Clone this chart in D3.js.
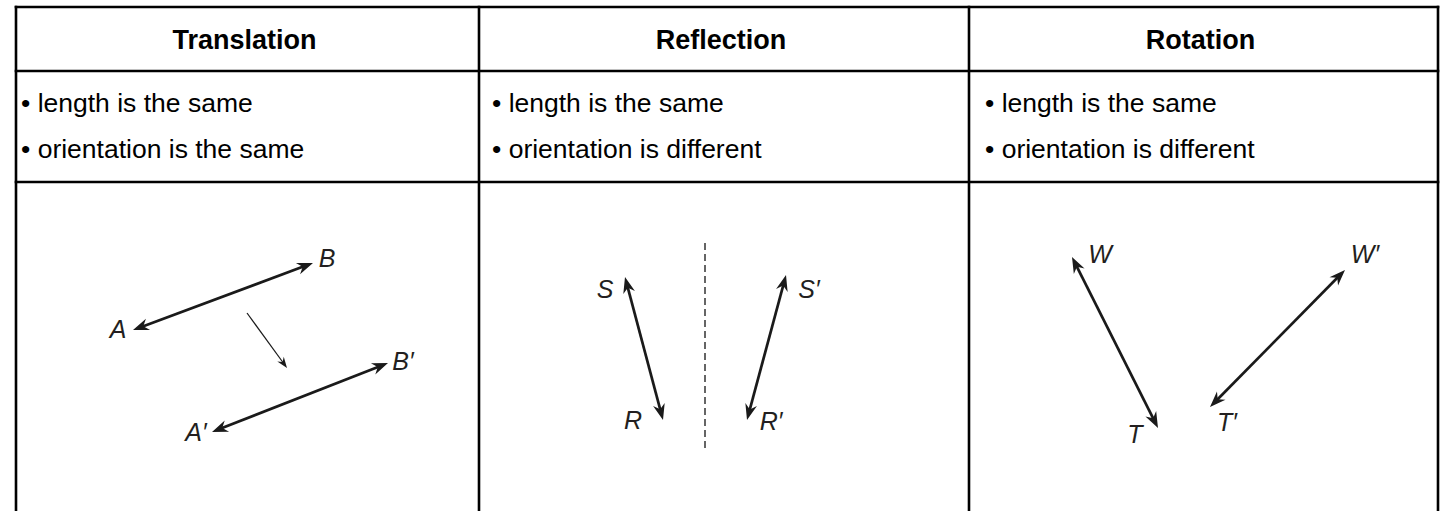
<!DOCTYPE html>
<html>
<head>
<meta charset="utf-8"/>
<style>
body { margin: 0; background: #fff; }
.head { font: bold 27px "Liberation Sans", Arial, sans-serif; text-anchor: middle; fill: #000; }
.prop { font: 26.5px "Liberation Sans", Arial, sans-serif; fill: #000; }
.lbl { font: italic 25px "Liberation Sans", Arial, sans-serif; fill: #231f20; text-anchor: middle; dominant-baseline: central; }
.grid { stroke: #000; stroke-width: 2.6; }
</style>
<script src="https://d3js.org/d3.v7.min.js"></script>
</head>
<body>
<svg width="1442" height="511"></svg>
<script>

var headers = ["Translation", "Reflection", "Rotation"];

var properties = [
  ["length is the same", "orientation is the same"],
  ["length is the same", "orientation is different"],
  ["length is the same", "orientation is different"]
];

// segment end points, in units from the top left corner of each drawing cell
var segments = [
  [{x1: 117, y1: 148, x2: 297, y2: 81, kind: "bold"},
   {x1: 196, y1: 250, x2: 372, y2: 181, kind: "bold"},
   {x1: 231, y1: 131, x2: 271, y2: 186, kind: "thin"}],
  [{x1: 146, y1: 95, x2: 184, y2: 238, kind: "bold"},
   {x1: 307, y1: 93, x2: 268, y2: 238, kind: "bold"}],
  [{x1: 103, y1: 75, x2: 189, y2: 246, kind: "bold"},
   {x1: 376, y1: 88, x2: 241, y2: 225, kind: "bold"}]
];

// line of reflection
var mirrors = [[], [{x: 226, y1: 61, y2: 270}], []];

var labels = [
  [{t: "A", x: 102, y: 147}, {t: "B", x: 311, y: 76}, {t: "A\u2032", x: 180, y: 250}, {t: "B\u2032", x: 387, y: 179}],
  [{t: "S", x: 126, y: 107}, {t: "R", x: 154, y: 238}, {t: "S\u2032", x: 330, y: 107}, {t: "R\u2032", x: 292, y: 239}],
  [{t: "W", x: 131, y: 72}, {t: "T", x: 166, y: 252}, {t: "W\u2032", x: 396, y: 72}, {t: "T\u2032", x: 258, y: 240}]
];

var colEdges = [16, 479, 969, 1438],
    rowEdges = [7, 71, 182, 560];

var svg = d3.select("svg");

var defs = svg.append("defs");
function marker(id, path, shift) {
  defs.append("marker")
      .attr("id", id)
      .attr("viewBox", "-18 -9 20 18")
      .attr("markerWidth", 20).attr("markerHeight", 18)
      .attr("markerUnits", "userSpaceOnUse")
      .attr("refX", -shift).attr("refY", 0)
      .attr("orient", "auto-start-reverse")
    .append("path")
      .attr("d", path)
      .attr("fill", "#1a1a1a");
}
marker("head", "M0,0L-16,-6L-11,0L-16,6Z", 6);
marker("thinhead", "M0,0L-11,-4L-7.5,0L-11,4Z", 4);

// table rules
svg.selectAll("line.h")
  .data(rowEdges.slice(0, 3))
  .enter().append("line")
    .attr("class", "grid")
    .attr("x1", colEdges[0] - 1.3).attr("x2", colEdges[3] + 1.3)
    .attr("y1", function(d) { return d; }).attr("y2", function(d) { return d; });

svg.selectAll("line.v")
  .data(colEdges)
  .enter().append("line")
    .attr("class", "grid")
    .attr("x1", function(d) { return d; }).attr("x2", function(d) { return d; })
    .attr("y1", rowEdges[0] - 1.3).attr("y2", rowEdges[3]);

headers.forEach(function(h, i) {
  var left = colEdges[i], right = colEdges[i + 1];
  var pad = [5, 13, 16][i];

  svg.append("text")
      .attr("class", "head")
      .attr("x", (left + right) / 2 - 3)
      .attr("y", rowEdges[0] + 42)
      .text(h);

  svg.selectAll("text.p" + i)
    .data(properties[i])
    .enter().append("text")
      .attr("class", "prop p" + i)
      .attr("x", left + pad)
      .attr("y", function(d, j) { return rowEdges[1] + 41 + j * 46; })
      .text(function(d) { return "\u2022 " + d; });

  var x = d3.scaleLinear().domain([0, right - left]).range([left, right]),
      y = d3.scaleLinear().domain([0, rowEdges[3] - rowEdges[2]]).range([rowEdges[2], rowEdges[3]]);

  var g = svg.append("g");

  g.selectAll("line.seg")
    .data(segments[i])
    .enter().append("line")
      .each(function(d) {
        var shift = d.kind === "bold" ? 6 : 4;
        var x1 = x(d.x1), y1 = y(d.y1), x2 = x(d.x2), y2 = y(d.y2);
        var len = Math.hypot(x2 - x1, y2 - y1), ux = (x2 - x1) / len, uy = (y2 - y1) / len;
        var both = d.kind === "bold";
        d3.select(this)
          .attr("x1", both ? x1 + ux * shift : x1)
          .attr("y1", both ? y1 + uy * shift : y1)
          .attr("x2", x2 - ux * shift)
          .attr("y2", y2 - uy * shift)
          .attr("stroke", "#1a1a1a")
          .attr("stroke-width", both ? 2.7 : 1.2)
          .attr("marker-start", both ? "url(#head)" : null)
          .attr("marker-end", both ? "url(#head)" : "url(#thinhead)");
      });

  g.selectAll("line.mirror")
    .data(mirrors[i])
    .enter().append("line")
      .attr("x1", function(d) { return x(d.x); })
      .attr("x2", function(d) { return x(d.x); })
      .attr("y1", function(d) { return y(d.y1); })
      .attr("y2", function(d) { return y(d.y2); })
      .attr("stroke", "#333")
      .attr("stroke-width", 1.5)
      .attr("stroke-dasharray", "7,4");

  g.selectAll("text.lbl")
    .data(labels[i])
    .enter().append("text")
      .attr("class", "lbl")
      .attr("x", function(d) { return x(d.x); })
      .attr("y", function(d) { return y(d.y); })
      .text(function(d) { return d.t; });
});

</script>
</body>
</html>
